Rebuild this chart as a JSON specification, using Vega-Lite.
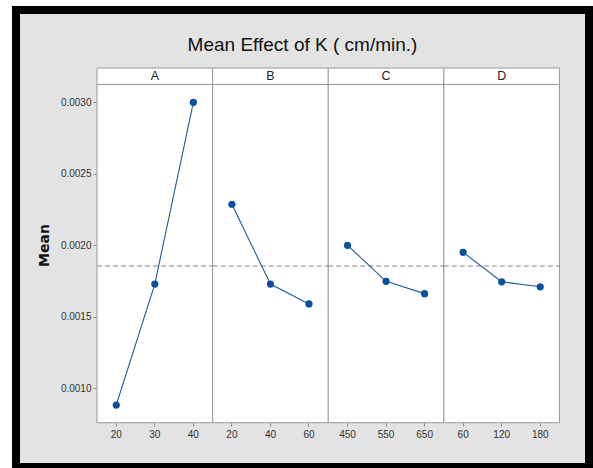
{
  "$schema": "https://vega.github.io/schema/vega-lite/v6.json",
  "width": 573,
  "height": 457,
  "autosize": {"type": "none"},
  "padding": {"left": 16, "top": 10, "right": 4, "bottom": 1},
  "background": "white",
  "config": {
    "view": {"fill": "#e3e3e3", "stroke": "black", "strokeWidth": 8},
    "font": "Liberation Sans"
  },
  "title": {
    "text": "Mean Effect of K ( cm/min.)",
    "font": "Liberation Sans",
    "fontSize": 19,
    "fontWeight": "normal",
    "color": "#111111",
    "anchor": "middle",
    "frame": "group",
    "baseline": "alphabetic",
    "offset": -60
  },
  "datasets": {
    "means": [
      {"factor": "A", "level": "20", "key": "A20", "mean": 0.000883},
      {"factor": "A", "level": "30", "key": "A30", "mean": 0.001729},
      {"factor": "A", "level": "40", "key": "A40", "mean": 0.003000},
      {"factor": "B", "level": "20", "key": "B20", "mean": 0.002287},
      {"factor": "B", "level": "40", "key": "B40", "mean": 0.001729},
      {"factor": "B", "level": "60", "key": "B60", "mean": 0.001590},
      {"factor": "C", "level": "450", "key": "C450", "mean": 0.002000},
      {"factor": "C", "level": "550", "key": "C550", "mean": 0.001748},
      {"factor": "C", "level": "650", "key": "C650", "mean": 0.001662},
      {"factor": "D", "level": "60", "key": "D60", "mean": 0.001951},
      {"factor": "D", "level": "120", "key": "D120", "mean": 0.001745},
      {"factor": "D", "level": "180", "key": "D180", "mean": 0.001710}
    ],
    "factors": [
      {"factor": "A", "grandMean": 0.001855},
      {"factor": "B", "grandMean": 0.001855},
      {"factor": "C", "grandMean": 0.001855},
      {"factor": "D", "grandMean": 0.001855}
    ]
  },
  "layer": [
    {
      "data": {"name": "factors"},
      "encoding": {
        "x": {
          "field": "factor",
          "type": "nominal",
          "scale": {"type": "band", "paddingInner": 0, "paddingOuter": 0, "range": [81, 543.5]},
          "axis": null
        }
      },
      "layer": [
        {
          "mark": {"type": "rect", "fill": "white", "stroke": "#999999", "strokeWidth": 1},
          "encoding": {
            "y": {"datum": 0.0007594, "type": "quantitative", "scale": {"domain": [0.0004497, 0.0036455], "nice": false, "zero": false}},
            "y2": {"datum": 0.0031245}
          }
        },
        {
          "mark": {"type": "rect", "fill": "white", "stroke": "#999999", "strokeWidth": 1},
          "encoding": {
            "y": {"datum": 0.0031245, "type": "quantitative", "scale": {"domain": [0.0004497, 0.0036455], "nice": false, "zero": false}},
            "y2": {"datum": 0.0032399}
          }
        },
        {
          "mark": {"type": "text", "fontSize": 12.5, "baseline": "middle", "color": "#222222"},
          "encoding": {
            "y": {"datum": 0.0031822, "type": "quantitative", "scale": {"domain": [0.0004497, 0.0036455], "nice": false, "zero": false}},
            "text": {"field": "factor"}
          }
        },
        {
          "mark": {"type": "rule", "strokeDash": [5, 3], "color": "#858585", "strokeWidth": 1},
          "encoding": {
            "x": {"field": "factor", "type": "nominal", "bandPosition": 0},
            "x2": {"field": "factor", "bandPosition": 1},
            "y": {"field": "grandMean", "type": "quantitative", "scale": {"domain": [0.0004497, 0.0036455], "nice": false, "zero": false}}
          }
        }
      ]
    },
    {
      "data": {"name": "means"},
      "encoding": {
        "x": {
          "field": "key",
          "type": "nominal",
          "sort": null,
          "scale": {"type": "band", "paddingInner": 0, "paddingOuter": 0, "range": [81, 543.5]},
          "axis": {
            "orient": "bottom",
            "offset": -45,
            "title": null,
            "domain": false,
            "grid": false,
            "labelAngle": 0,
            "labelExpr": "substring(datum.label, 1)",
            "tickSize": 4,
            "tickColor": "#8a8a8a",
            "labelPadding": 3,
            "labelFontSize": 10,
            "labelColor": "#333333",
            "labelFont": "Liberation Sans"
          }
        },
        "y": {
          "field": "mean",
          "type": "quantitative",
          "scale": {"domain": [0.0004497, 0.0036455], "nice": false, "zero": false},
          "axis": {
            "orient": "left",
            "offset": -81,
            "values": [0.001, 0.0015, 0.002, 0.0025, 0.003],
            "format": ".4f",
            "domain": false,
            "grid": false,
            "tickSize": 4,
            "tickColor": "#8a8a8a",
            "labelPadding": 2,
            "labelFontSize": 10,
            "labelColor": "#333333",
            "labelFont": "Liberation Sans",
            "title": "Mean",
            "titleFont": "DejaVu Sans",
            "titleFontSize": 14,
            "titleFontWeight": "bold",
            "titleColor": "#111111",
            "titlePadding": 9,
            "titleY": 235
          }
        }
      },
      "layer": [
        {
          "mark": {"type": "line", "color": "#1f5c9e", "strokeWidth": 1.1},
          "encoding": {"detail": {"field": "factor"}}
        },
        {
          "mark": {"type": "point", "filled": true, "color": "#0b4f9e", "opacity": 1, "size": 52}
        }
      ]
    }
  ],
  "resolve": {"scale": {"x": "independent"}}
}
